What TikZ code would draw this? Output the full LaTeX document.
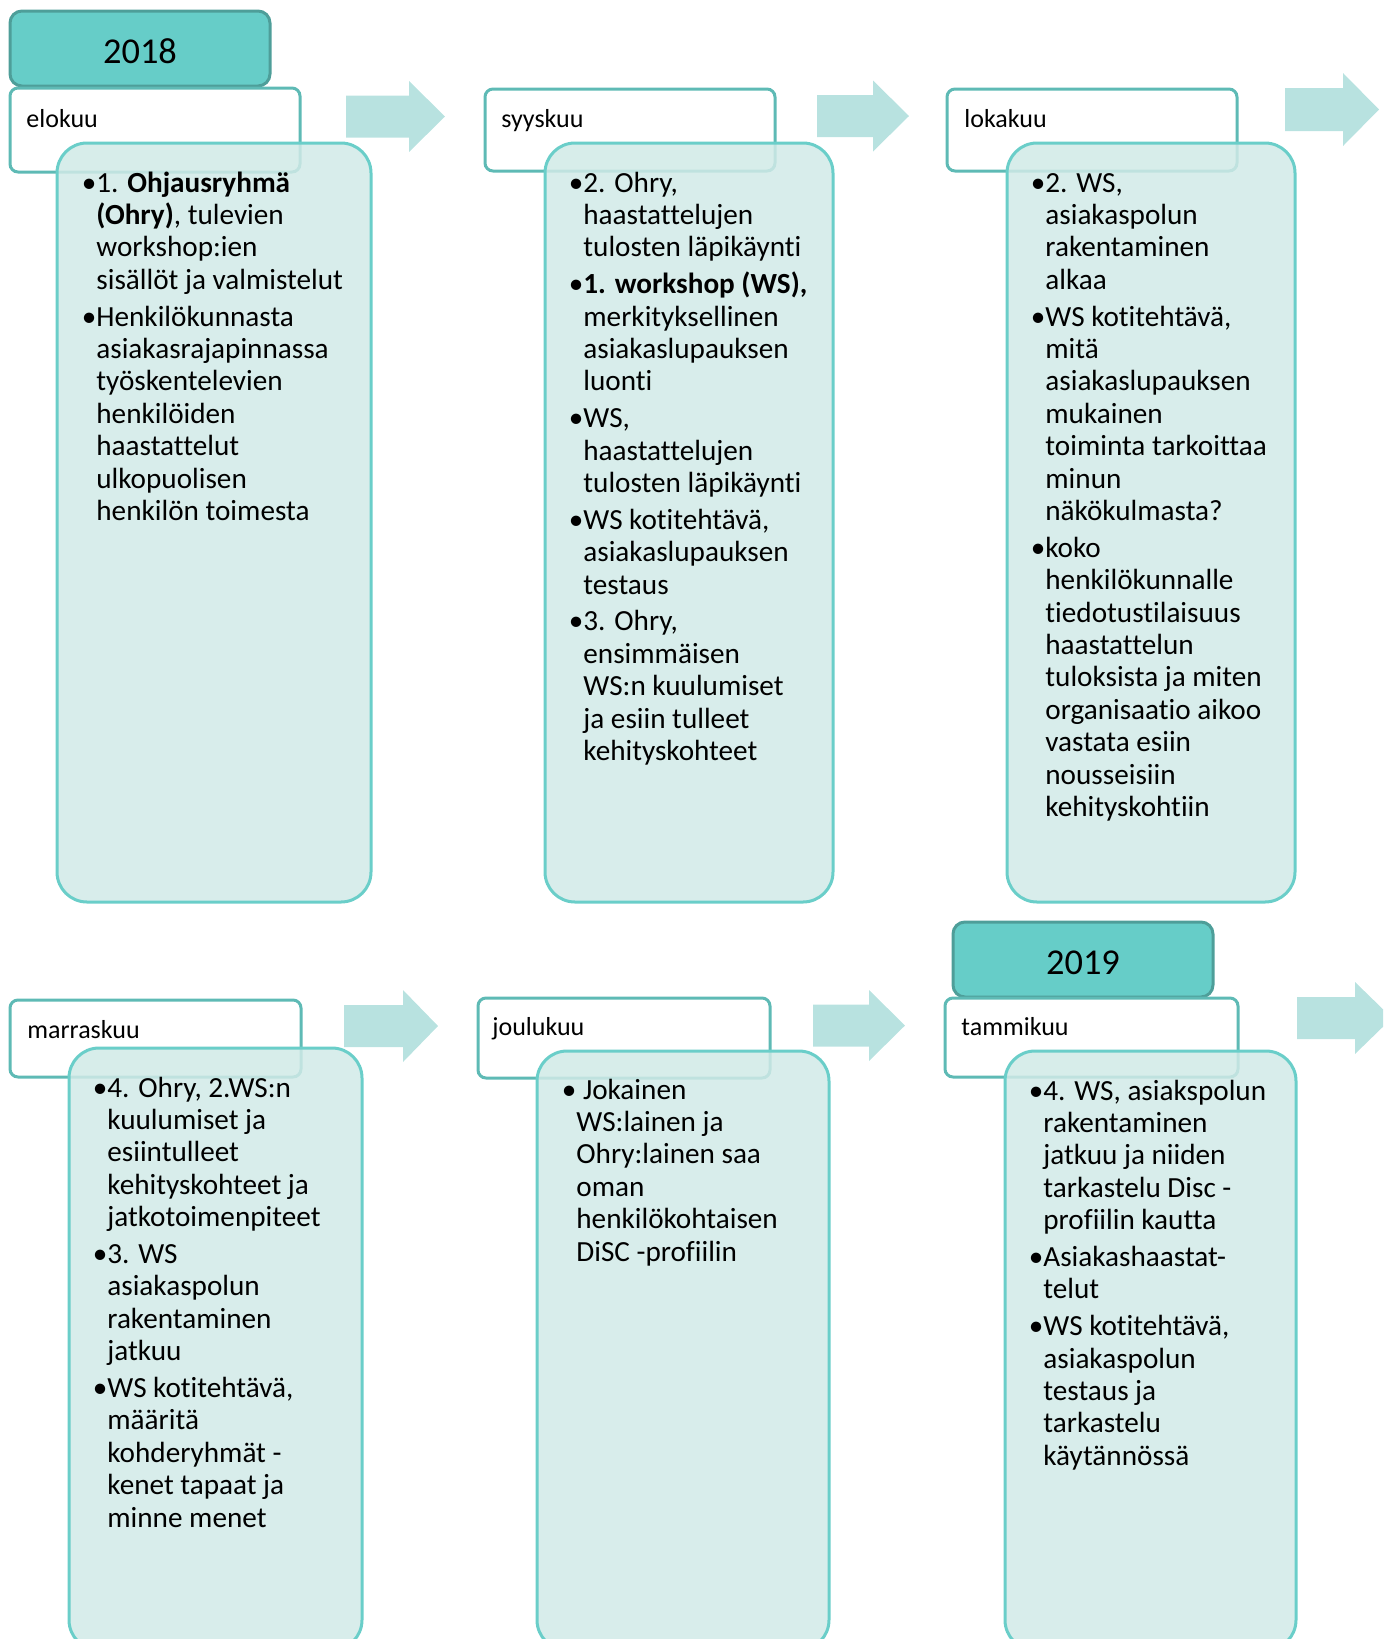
\documentclass[tikz,border=0pt]{standalone}
\usepackage{fontspec}
\setmainfont{Carlito}[Ligatures=NoCommon]
\definecolor{vuositaytto}{RGB}{102,205,200}
\definecolor{vuosiviiva}{RGB}{78,158,153}
\definecolor{kuuviiva}{RGB}{94,186,181}
\definecolor{sistaytto}{RGB}{209,234,231}
\definecolor{sisviiva}{RGB}{106,206,201}
\definecolor{nuolivari}{RGB}{184,226,224}
\newcommand{\rivit}[1]{\begin{tabular}[t]{@{}l@{}}#1\end{tabular}}
\begin{document}
\begin{tikzpicture}[x=0.5pt,y=-0.5pt,
    vuosi/.style={draw=vuosiviiva,fill=vuositaytto,line width=1.5pt,rounded corners=6pt},
    kuu/.style={draw=kuuviiva,fill=white,line width=1.5pt,rounded corners=4pt},
    sisalto/.style={draw=sisviiva,fill=sistaytto,fill opacity=0.85,line width=1.5pt,rounded corners=15pt},
    nuoli/.style={fill=nuolivari},
    vuositeksti/.style={font=\fontsize{18.2pt}{22pt}\selectfont,inner sep=0pt,anchor=base},
    kuuteksti/.style={font=\fontsize{13pt}{15pt}\selectfont,inner sep=0pt,anchor=base west},
    lista/.style={font=\fontsize{14.6pt}{16.2pt}\selectfont,inner sep=0pt,anchor=base west}]
        \clip (0, 0) rectangle (1383, 1639);

        % Nuolet
        \fill[nuoli] (346, 95.5) -- (409, 95.5) -- (409, 81) -- (445, 116.5) -- (409, 152) -- (409, 137.5) -- (346, 137.5) -- cycle;
        \fill[nuoli] (817, 95) -- (873, 95) -- (873, 80.5) -- (909, 116) -- (873, 151.5) -- (873, 137) -- (817, 137) -- cycle;
        \fill[nuoli] (1285, 88) -- (1343, 88) -- (1343, 73) -- (1379, 109.5) -- (1343, 146) -- (1343, 131) -- (1285, 131) -- cycle;
        \fill[nuoli] (344, 1005) -- (403, 1005) -- (403, 990) -- (438, 1026) -- (403, 1062) -- (403, 1047) -- (344, 1047) -- cycle;
        \fill[nuoli] (813, 1004.5) -- (869, 1004.5) -- (869, 990) -- (905, 1025.5) -- (869, 1061) -- (869, 1046.5) -- (813, 1046.5) -- cycle;
        \fill[nuoli] (1297, 997) -- (1355, 997) -- (1355, 982) -- (1392, 1018) -- (1355, 1054) -- (1355, 1039) -- (1297, 1039) -- cycle;

        % 2018 / elokuu
        \draw[vuosi] (10, 11) rectangle (270, 86);
        \node[vuositeksti] (v2018) at (140, 63) {2018};
        \draw[kuu] (10, 88) rectangle (300, 172);
        \node[kuuteksti] (elokuu) at (26, 127) {elokuu};
        \draw[sisalto] (57, 143) rectangle (371, 902);
        \node[lista] (elokuuTeksti) at (96, 192) {\rivit{\llap{•}1. \textbf{Ohjausryhmä}\\
            \textbf{(Ohry)}, tulevien\\
            workshop:ien\\
            sisällöt ja valmistelut\\[2.2pt]
            \llap{•}Henkilökunnasta\\
            asiakasrajapinnassa\\
            työskentelevien\\
            henkilöiden\\
            haastattelut\\
            ulkopuolisen\\
            henkilön toimesta}};

        % syyskuu
        \draw[kuu] (485, 89) rectangle (775, 171);
        \node[kuuteksti] (syyskuu) at (501, 127) {syyskuu};
        \draw[sisalto] (545, 143) rectangle (833, 902);
        \node[lista] (syyskuuTeksti) at (583, 192) {\rivit{\llap{•}2. Ohry,\\
            haastattelujen\\
            tulosten läpikäynti\\[2.2pt]
            \llap{•}\textbf{1. workshop (WS),}\\
            merkityksellinen\\
            asiakaslupauksen\\
            luonti\\[2.2pt]
            \llap{•}WS,\\
            haastattelujen\\
            tulosten läpikäynti\\[2.2pt]
            \llap{•}WS kotitehtävä,\\
            asiakaslupauksen\\
            testaus\\[2.2pt]
            \llap{•}3. Ohry,\\
            ensimmäisen\\
            WS:n kuulumiset\\
            ja esiin tulleet\\
            kehityskohteet}};

        % lokakuu
        \draw[kuu] (947, 89) rectangle (1237, 171);
        \node[kuuteksti] (lokakuu) at (964, 127) {lokakuu};
        \draw[sisalto] (1007, 143) rectangle (1295, 902);
        \node[lista] (lokakuuTeksti) at (1045, 192) {\rivit{\llap{•}2. WS,\\
            asiakaspolun\\
            rakentaminen\\
            alkaa\\[2.2pt]
            \llap{•}WS kotitehtävä,\\
            mitä\\
            asiakaslupauksen\\
            mukainen\\
            toiminta tarkoittaa\\
            minun\\
            näkökulmasta?\\[2.2pt]
            \llap{•}koko\\
            henkilökunnalle\\
            tiedotustilaisuus\\
            haastattelun\\
            tuloksista ja miten\\
            organisaatio aikoo\\
            vastata esiin\\
            nousseisiin\\
            kehityskohtiin}};

        % marraskuu
        \draw[kuu] (10, 1000) rectangle (301, 1077);
        \node[kuuteksti] (marraskuu) at (27, 1038) {marraskuu};
        \draw[sisalto] (69, 1048) rectangle (362, 1650);
        \node[lista] (marraskuuTeksti) at (107, 1097) {\rivit{\llap{•}4. Ohry, 2.WS:n\\
            kuulumiset ja\\
            esiintulleet\\
            kehityskohteet ja\\
            jatkotoimenpiteet\\[2.2pt]
            \llap{•}3. WS\\
            asiakaspolun\\
            rakentaminen\\
            jatkuu\\[2.2pt]
            \llap{•}WS kotitehtävä,\\
            määritä\\
            kohderyhmät -\\
            kenet tapaat ja\\
            minne menet}};

        % joulukuu
        \draw[kuu] (478, 998) rectangle (770, 1078);
        \node[kuuteksti] (joulukuu) at (492, 1035) {joulukuu};
        \draw[sisalto] (537, 1051) rectangle (829, 1650);
        \node[lista] (joulukuuTeksti) at (576, 1099) {\rivit{\llap{•}\ Jokainen\\
            WS:lainen ja\\
            Ohry:lainen saa\\
            oman\\
            henkilökohtaisen\\
            DiSC -profiilin}};

        % 2019 / tammikuu
        \draw[vuosi] (953, 922) rectangle (1213, 997);
        \node[vuositeksti] (v2019) at (1083, 974) {2019};
        \draw[kuu] (945, 998) rectangle (1238, 1077);
        \node[kuuteksti] (tammikuu) at (961, 1035) {tammikuu};
        \draw[sisalto] (1005, 1051) rectangle (1296, 1650);
        \node[lista] (tammikuuTeksti) at (1043, 1100) {\rivit{\llap{•}4. WS, asiakspolun\\
            rakentaminen\\
            jatkuu ja niiden\\
            tarkastelu Disc -\\
            profiilin kautta\\[2.2pt]
            \llap{•}Asiakashaastat-\\
            telut\\[2.2pt]
            \llap{•}WS kotitehtävä,\\
            asiakaspolun\\
            testaus ja\\
            tarkastelu\\
            käytännössä}};
    \end{tikzpicture}
\end{document}
